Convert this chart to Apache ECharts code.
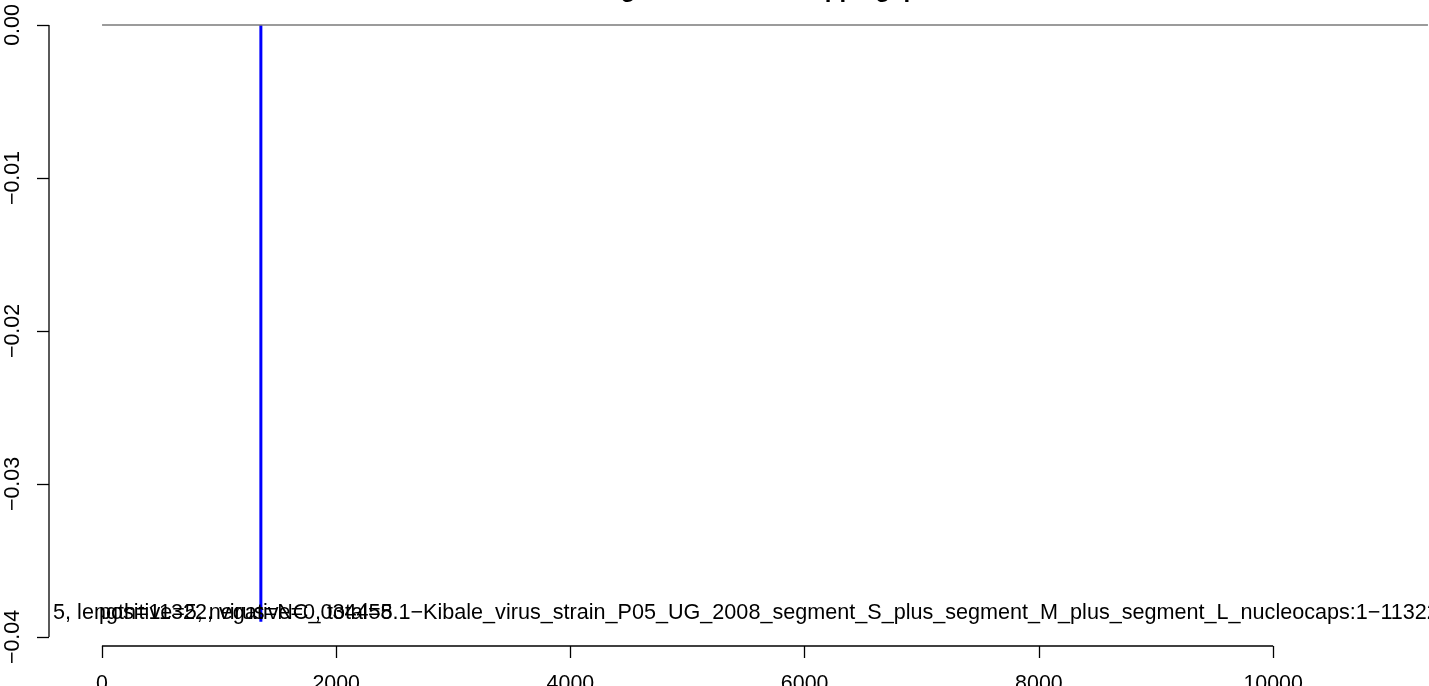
<!DOCTYPE html>
<html>
<head>
<meta charset="utf-8">
<title>coverage plot</title>
<script src="https://cdn.jsdelivr.net/npm/echarts@6/dist/echarts.min.js"></script>
<style>
  html, body { margin: 0; padding: 0; background: #ffffff; }
  #chart { width: 1429px; height: 686px; }
</style>
</head>
<body>
<div id="chart"></div>
<script>
// Axis ticks and their printed labels
const xTicks = [0, 2000, 4000, 6000, 8000, 10000];
const xTickLabels = ['0', '2000', '4000', '6000', '8000', '10000'];
const yTicks = [0, -0.01, -0.02, -0.03, -0.04];
const yTickLabels = ['0.00', '\u22120.01', '\u22120.02', '\u22120.03', '\u22120.04'];

// Genome span drawn as the zero baseline
const genomeStart = 1;
const genomeEnd = 11322;
const baselineValue = 0;

// Single negative-strand hit
const hitPositions = [1357];
const hitValues = [-0.039];

// Visible plot ranges
const xRange = [-452, 11331];
const yRange = [-0.04059, 0.00157];

// Annotation strings and their anchors (x, y)
const noteTexts = [
  '5, length=11322, virus=NC_034458.1\u2212Kibale_virus_strain_P05_UG_2008_segment_S_plus_segment_M_plus_segment_L_nucleocaps:1\u221211322',
  'positive=5, negative=0, total=5'
];
const noteX = [-417, -25];
const noteY = [-0.03843, -0.03843];

const FONT = '"Liberation Sans", Arial, Helvetica, sans-serif';
const TEXT_SIZE = 21.6;
const AXIS_SIZE = 21.4;

const chart = echarts.init(document.getElementById('chart'), null, { renderer: 'canvas' });

const option = {
  backgroundColor: '#ffffff',
  animation: false,
  title: {
    text: 'negative_strand_mapping_plot',
    left: 765,
    top: -27,
    textAlign: 'center',
    textStyle: { fontFamily: FONT, fontWeight: 'bold', fontSize: 24, color: '#000' }
  },
  grid: {
    left: 49, right: 0, top: 1, bottom: 40,
    containLabel: false,
    outerBoundsMode: 'none'
  },
  xAxis: {
    type: 'value',
    min: xRange[0],
    max: xRange[1],
    splitLine: { show: false },
    axisLine: { show: false, onZero: false },
    axisTick: {
      show: true,
      customValues: xTicks,
      length: 12,
      inside: false,
      lineStyle: { color: '#000', width: 1.3 }
    },
    axisLabel: {
      customValues: xTicks,
      margin: 28,
      fontFamily: FONT,
      fontSize: AXIS_SIZE,
      color: '#000',
      formatter: (v) => xTickLabels[xTicks.indexOf(v)]
    }
  },
  yAxis: {
    type: 'value',
    min: yRange[0],
    max: yRange[1],
    splitLine: { show: false },
    axisLine: { show: false, onZero: false },
    axisTick: {
      show: true,
      customValues: yTicks,
      length: 12,
      inside: false,
      lineStyle: { color: '#000', width: 1.3 }
    },
    axisLabel: {
      customValues: yTicks,
      rotate: 90,
      margin: 25,
      fontFamily: FONT,
      fontSize: AXIS_SIZE,
      color: '#000',
      formatter: (v) => {
        const i = yTicks.findIndex(t => Math.abs(t - v) < 1e-9);
        return i >= 0 ? yTickLabels[i] : '';
      }
    }
  },
  series: [
    {
      // bottom axis line, spanning first to last tick
      type: 'line',
      clip: false,
      silent: true,
      showSymbol: false,
      data: [[xTicks[0], yRange[0]], [xTicks[xTicks.length - 1], yRange[0]]],
      lineStyle: { color: '#000', width: 1.3 }
    },
    {
      // left axis line, spanning first to last tick
      type: 'line',
      clip: false,
      silent: true,
      showSymbol: false,
      data: [[xRange[0], yTicks[0]], [xRange[0], yTicks[yTicks.length - 1]]],
      lineStyle: { color: '#000', width: 1.3 }
    },
    {
      // zero baseline across the genome
      type: 'line',
      silent: true,
      showSymbol: false,
      data: [[genomeStart, baselineValue], [genomeEnd, baselineValue]],
      lineStyle: { color: '#7a7a7a', width: 1.6 }
    },
    {
      // hit drawn as a vertical spike from zero
      type: 'custom',
      silent: true,
      data: hitPositions.map((p, i) => [p, hitValues[i]]),
      renderItem: (params, api) => {
        const top = api.coord([api.value(0), 0]);
        const bot = api.coord([api.value(0), api.value(1)]);
        return {
          type: 'line',
          shape: { x1: top[0], y1: top[1], x2: bot[0], y2: bot[1] },
          style: { stroke: '#0000ff', lineWidth: 3 }
        };
      }
    },
    {
      // text annotations
      type: 'custom',
      silent: true,
      clip: false,
      data: noteTexts.map((t, i) => [noteX[i], noteY[i], i]),
      renderItem: (params, api) => {
        const p = api.coord([api.value(0), api.value(1)]);
        return {
          type: 'text',
          x: p[0],
          y: p[1],
          style: {
            text: noteTexts[api.value(2)],
            font: TEXT_SIZE + 'px ' + FONT,
            fill: '#000',
            align: 'left',
            verticalAlign: 'middle'
          }
        };
      }
    }
  ]
};

chart.setOption(option);
</script>
</body>
</html>
